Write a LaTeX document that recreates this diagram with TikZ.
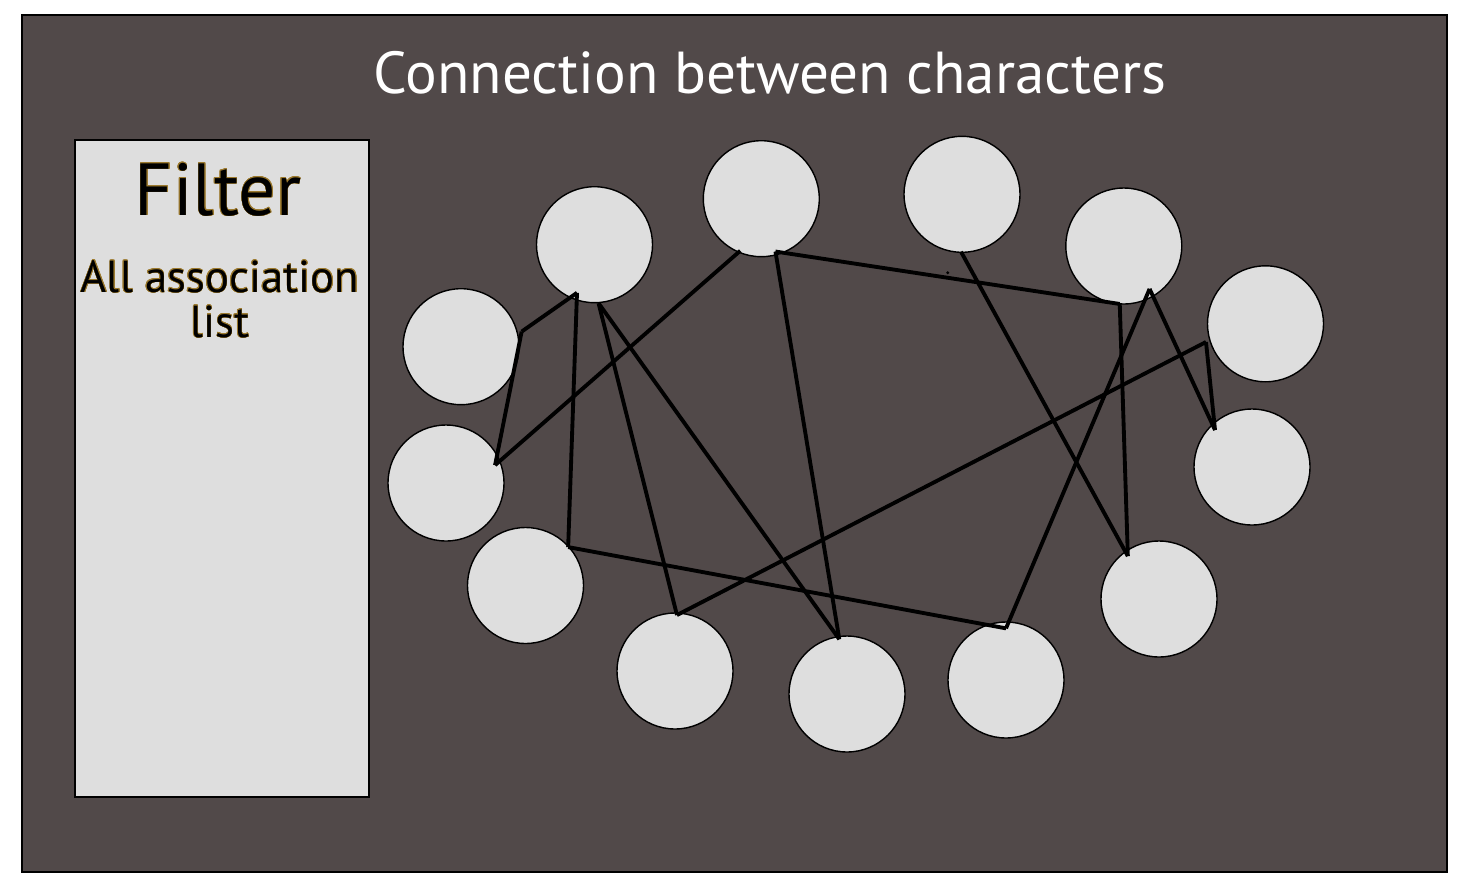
\documentclass[tikz,border=0pt]{standalone}
\usepackage{fontspec}
\setmainfont{PT Sans}
\usepackage{contour}
\contourlength{0.25pt}
\usetikzlibrary{calc}
\definecolor{boardgrey}{HTML}{514949}
\definecolor{nodegrey}{HTML}{DEDEDE}
\definecolor{goldline}{HTML}{9C7A2E}

\begin{document}
\begin{tikzpicture}[x=0.02cm, y=-0.02cm,
        board/.style={draw=black, fill=boardgrey, line width=1pt},
        panel/.style={draw=black, fill=nodegrey, line width=1pt},
        person/.style={circle, draw=black, fill=nodegrey, line width=0.8pt, minimum size=2.32cm, inner sep=0pt},
        title/.style={text=white, font=\fontsize{33.7}{36}\selectfont, anchor=base},
        link/.style={draw=black, line width=2.2pt}]

    \useasboundingbox (0,0) rectangle (1465,890);
    \draw[board] (22,15) rectangle (1447,872);
    \node[title] (title) at (770,93) {Connection between characters};

    % filter panel
    \draw[panel] (75,140) rectangle (369,797);
    \node[anchor=base, font=\fontsize{42}{44}\selectfont] (filter) at (218,215) {\contour{goldline}{Filter}};
    \node[anchor=base, align=center, font=\fontsize{25.5}{25.5}\selectfont] (assoc) at (220,337)
        {\contour{goldline}{All association}\\\contour{goldline}{list}};

    % characters
    \node[person] (c1) at (594.5,244.7) {};
    \node[person] (c2) at (761.3,198.7) {};
    \node[person] (c3) at (962,194.3) {};
    \node[person] (c4) at (1123.8,246) {};
    \node[person] (c5) at (1265.5,323.8) {};
    \node[person] (c6) at (1252,467) {};
    \node[person] (c7) at (1159,599) {};
    \node[person] (c8) at (1006,680) {};
    \node[person] (c9) at (847,694) {};
    \node[person] (c10) at (675,671) {};
    \node[person] (c11) at (525.5,585.5) {};
    \node[person] (c12) at (446,483) {};
    \node[person] (c13) at (461,346.7) {};

    % line ends
    \coordinate (a) at ($(c13)!1.065!(c13.14)$);
    \coordinate (b) at ($(c1)!0.872!(c1.-110)$);
    \coordinate (b2) at ($(c1)!1.0!(c1.-86)$);
    \coordinate (c) at ($(c12)!0.89!(c12.20)$);
    \coordinate (d) at ($(c2)!0.932!(c2.-75.5)$);
    \coordinate (d2) at ($(c2)!0.957!(c2.-112)$);
    \coordinate (e) at ($(c4)!0.99!(c4.-94)$);
    \coordinate (f) at ($(c4)!0.853!(c4.-59)$);
    \coordinate (g) at ($(c6)!0.891!(c6.135)$);
    \coordinate (h) at ($(c5)!1.06!(c5.-163)$);
    \coordinate (i) at ($(c11)!0.978!(c11.42)$);
    \coordinate (j) at ($(c8)!0.88!(c8.90)$);
    \coordinate (k) at ($(c10)!0.954!(c10.88)$);
    \coordinate (l) at ($(c9)!0.942!(c9.98)$);
    \coordinate (m) at ($(c3)!0.978!(c3.-91)$);
    \coordinate (n) at ($(c7)!0.903!(c7.126)$);

    \draw[link] (a) -- (b);
    \draw[link] (a) -- (c);
    \draw[link] (c) -- (d2);
    \draw[link] (b) -- (i);
    \draw[link] (i) -- (j);
    \draw[link] (b2) -- (k);
    \draw[link] (b2) -- (l);
    \draw[link] (d) -- (l);
    \draw[link] (d) -- (e);
    \draw[link] (m) -- (n);
    \draw[link] (e) -- (n);
    \draw[link] (f) -- (j);
    \draw[link] (f) -- (g);
    \draw[link] (h) -- (g);
    \draw[link] (h) -- (k);
    \fill (947.7,272.7) circle (1.6);
\end{tikzpicture}
\end{document}
